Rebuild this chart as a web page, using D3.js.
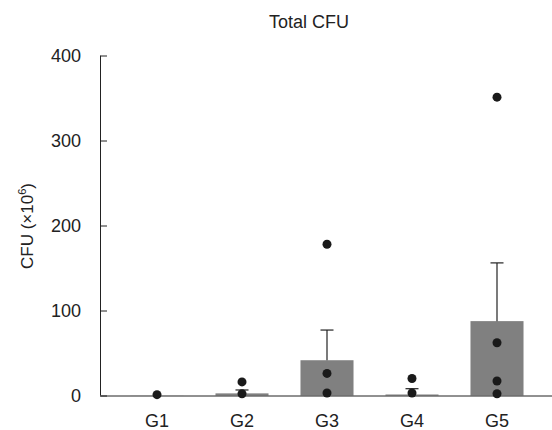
<!DOCTYPE html>
<html>
<head>
<meta charset="utf-8">
<script src="https://cdn.jsdelivr.net/npm/d3@7"></script>
<style>
  body { margin: 0; background: #fff; }
  svg { display: block; font-family: "Liberation Sans", Arial, sans-serif; }
  .axis path, .axis line { stroke: #222; }
  .axis text { fill: #222; font-size: 18px; }
</style>
</head>
<body>
<div id="chart"></div>
<script>
// data
var groups = ["G1", "G2", "G3", "G4", "G5"];
var means = [0.1, 2.5, 41.5, 1.2, 87.5];
var errTop = [0, 6.5, 77, 8, 156];
var points = [
  [1],
  [16, 2],
  [178, 26, 3],
  [20, 3],
  [351, 62, 17, 2]
];
var yTicks = [0, 100, 200, 300, 400];

var width = 552, height = 430;

var svg = d3.select("#chart").append("svg")
    .attr("width", width)
    .attr("height", height);

var x = d3.scaleBand()
    .domain(groups)
    .range([114.5, 539.5])
    .paddingInner(0.376)
    .paddingOuter(0.188);

var y = d3.scaleLinear()
    .domain([0, 400])
    .range([395.5, 55.5]);

// title
svg.append("text")
    .attr("x", 309)
    .attr("y", 28)
    .attr("text-anchor", "middle")
    .attr("fill", "#222")
    .style("font-size", "18px")
    .text("Total CFU");

// y axis, ticks pointing inward
var yAxis = svg.append("g")
    .attr("class", "axis")
    .attr("transform", "translate(100,0)")
    .call(d3.axisRight(y).tickValues(yTicks).tickSize(7).tickSizeOuter(0).tickFormat(d3.format("d")));
yAxis.select(".domain").attr("d", "M0.5," + y(400) + "V" + y(0));
yAxis.selectAll(".tick line").attr("x1", 0.5);
yAxis.selectAll(".tick text")
    .attr("x", -19)
    .attr("text-anchor", "end");

// y label
svg.append("text")
    .attr("transform", "translate(33,226) rotate(-90)")
    .attr("text-anchor", "middle")
    .attr("fill", "#222")
    .style("font-size", "17px")
    .text("CFU (\u00d710")
  .append("tspan")
    .attr("dy", -7)
    .style("font-size", "11px")
    .text("6")
  .select(function() { return this.parentNode; })
  .append("tspan")
    .attr("dy", 7)
    .text(")");

// bars
svg.append("g").selectAll("rect")
    .data(groups)
  .enter().append("rect")
    .attr("x", function(d) { return x(d); })
    .attr("width", x.bandwidth())
    .attr("y", function(d, i) { return y(means[i]); })
    .attr("height", function(d, i) { return y(0) - y(means[i]); })
    .attr("fill", "#808080");

// error bars (upper only)
var err = svg.append("g").attr("stroke", "#222").attr("stroke-width", 1.2);
groups.forEach(function(g, i) {
  if (!errTop[i]) return;
  var cx = x(g) + x.bandwidth() / 2;
  err.append("line")
      .attr("x1", cx).attr("x2", cx)
      .attr("y1", y(means[i])).attr("y2", y(errTop[i]));
  err.append("line")
      .attr("x1", cx - 6.5).attr("x2", cx + 6.5)
      .attr("y1", y(errTop[i])).attr("y2", y(errTop[i]));
});

// x axis line
var xAxis = svg.append("g")
    .attr("class", "axis")
    .attr("transform", "translate(0," + y(0) + ")")
    .call(d3.axisBottom(x).tickSize(0).tickPadding(19));
xAxis.select(".domain").attr("d", "M100,0.5H552");
xAxis.selectAll(".tick text").attr("dy", "0.71em");

// individual points
groups.forEach(function(g, i) {
  var cx = x(g) + x.bandwidth() / 2;
  svg.append("g").selectAll("circle")
      .data(points[i])
    .enter().append("circle")
      .attr("cx", cx)
      .attr("cy", function(d) { return y(d); })
      .attr("r", 4.5)
      .attr("fill", "#1a1a1a");
});
</script>
</body>
</html>
